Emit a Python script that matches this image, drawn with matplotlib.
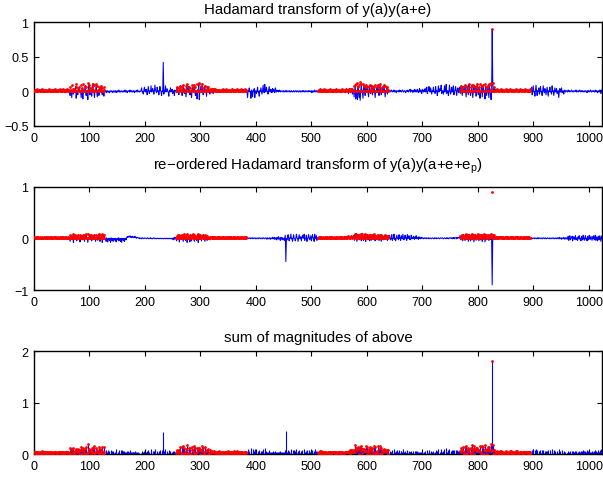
import numpy as np
import matplotlib
matplotlib.use("Agg")
import matplotlib.pyplot as plt

plt.rcParams['font.family'] = ['Liberation Sans', 'DejaVu Sans']
plt.rcParams['mathtext.default'] = 'regular'

# Hadamard coefficients of y(a)y(a+e), in hundredths, 128 indices per block
top_b0 = [1, 2, 1, 0, 2, 1, 3, 1, 0, 2, 1, 2, 0, 1, 3, 1,
          2, 0, 1, 2, 1, -1, 2, 1, 0, 1, 2, 3, 1, 0, 2, 1,
          1, 2, 0, 2, 1, 3, 1, 2, 0, 1, -1, 2, 1, 2, 3, 1,
          0, 2, 1, 1, 3, 2, 0, -2, 1, 2, 1, 3, 2, 1, 0, 2,
          1, -6, 0, 2, -9, 1, 0, -4, 3, -1, 0, 7, -10, 1, 0, -5,
          2, 0, 6, -1, 0, -9, 1, 5, -11, 0, 2, -1, 8, 0, -6, 1,
          0, -12, 2, 9, 0, -5, 1, 0, -7, 3, 11, 0, -1, -9, 2, 0,
          10, 1, -8, 0, 2, -6, 0, 4, -1, 8, 0, -5, 1, 0, -7, 2]
top_b1 = [0, -1, 1, -2, 0, 1, -1, 0, -2, 1, 0, -1, 1, 0, -2, 0,
          1, -1, 0, 1, -2, 0, 1, -1, 0, 2, -1, 0, -1, 1, 0, -1,
          0, 1, -1, 0, 2, -1, 0, 1, -2, 0, 1, 0, -1, 2, 0, -1,
          1, 0, -1, 1, 0, -2, 1, 0, -1, 1, 2, -1, 0, 1, -1, 0,
          0, 1, 5, -1, 0, -4, 1, 6, 0, -1, 3, 0, -5, 1, 7, 0,
          -3, 1, 0, 8, -1, 0, 4, 1, -4, 0, 9, 1, 0, -2, 6, 0,
          1, -5, 0, 7, 1, 0, -6, 1, 0, 42, -4, 1, 0, 8, -1, 0,
          4, 0, -1, -7, 1, 0, 5, -1, 0, 3, -3, 1, 0, -6, 2, 0]
top_b2 = [1, -2, 6, 0, 1, -5, 0, 3, 8, -1, 0, -6, 1, 9, 0, -3,
          1, 0, -8, 2, 10, 0, -1, 7, 0, -5, 1, 0, -9, 2, 6, 0,
          -1, 9, 0, -6, 1, 0, -11, 2, 0, 10, -12, 1, 0, 7, -1, 11,
          0, -5, 1, 0, 8, -1, 0, -7, 3, 0, 6, -1, 0, -4, 2, 0,
          -2, 4, 1, -3, 3, 2, -1, 3, 1, 2, -1, 2, 1, 0, 2, 1,
          1, 2, 0, 1, 3, 1, 2, 0, 1, 2, 1, 3, 0, 2, 1, 1,
          2, 0, 1, 2, 1, 3, 1, 0, 2, 1, 2, 1, 0, 2, 3, 1,
          1, 2, 0, 2, 1, 1, 3, 0, 2, 1, 2, 0, 1, 3, 1, 2]
top_b3 = [0, -9, 1, 0, 5, -1, 0, -10, 2, 0, -8, 1, 0, 4, -9, 0,
          1, -3, 0, 6, -1, 0, -7, 1, 0, 5, 0, -4, 1, 9, 0, -2,
          10, 0, -1, 6, 1, 0, -4, 2, 7, 0, -1, 3, 0, -2, 4, 0,
          3, 0, -2, 5, 1, -1, 2, 0, 1, -1, 2, 0, 1, -1, 0, 1,
          0, -1, 1, 0, -1, 1, 0, 1, -1, 0, 1, 0, -1, 1, 0, -1,
          1, 0, -1, 0, 1, -1, 0, 1, 0, -1, 1, 0, 0, -1, 1, 0,
          -1, 1, 0, -1, 1, 0, 1, -1, 0, 1, -1, 0, 1, 0, -1, 1,
          0, 1, -1, 0, 1, -2, 0, 1, -1, 0, 2, -1, 0, 1, -1, 0]
top_b4 = [1, 2, 0, 1, 3, 1, 2, 0, 2, 1, 3, 1, 0, 2, 1, 2,
          0, 1, 2, -1, 2, 1, 3, 0, 1, 2, 1, -2, 2, 1, 0, 2,
          1, 3, 1, 0, 2, 1, 2, -1, 1, 2, 0, 3, 1, 2, 1, 0,
          2, 1, -2, 3, 1, 2, 0, -3, 2, 4, 1, -2, 3, 2, -4, 1,
          1, -8, 0, 9, -11, 0, 1, -12, 7, 0, -9, 1, -13, 0, 11, -1,
          0, -10, 1, 8, 0, -6, 9, 0, -1, 7, 0, -8, 1, 9, 0, -3,
          1, 8, -5, 0, -1, 7, 0, -9, 1, 0, 6, -1, 9, 0, -6, 1,
          10, 0, -5, 1, 0, 7, -1, 9, 0, -8, 1, 0, 6, -4, 0, 2]
top_b5 = [1, 0, -1, 1, 2, 0, -1, 1, 0, 2, -1, 0, 1, -2, 1, 0,
          0, 1, -1, 2, 0, 1, -1, 0, 2, 1, -1, 0, 1, 0, -2, 1,
          1, 0, 2, -1, 0, 1, 3, -1, 0, 2, 1, -2, 1, 0, 3, -1,
          2, 0, -1, 3, 1, -2, 0, 4, -1, 2, 0, -3, 3, 1, -1, 2,
          0, 4, -1, 0, 6, -3, 0, 1, 7, 0, -1, 5, 0, -4, 1, 0,
          6, -1, 0, -3, 7, 0, 1, -6, 0, 8, -1, 0, 4, 1, 9, -3,
          0, 1, -4, 0, 8, -1, 0, 10, -3, 0, 1, -6, 0, 9, 1, -4,
          0, 6, -1, 0, 8, -5, 0, 1, 7, 0, -6, 1, 5, 0, -2, 6]
top_b6 = [1, -3, 8, 0, -6, 1, 7, 0, -1, 9, 0, -8, 1, 6, 0, -5,
          10, 0, -1, -6, 1, 9, 0, -9, 1, 8, 0, -2, 6, -7, 0, 11,
          0, -5, 1, 7, -10, 0, 1, 8, -8, 0, 9, -1, 0, -11, 7, 0,
          -6, 1, 8, 0, -9, 10, 0, -4, -12, 1, 90, 12, -1, 0, 6, 1,
          2, 1, 3, 2, 1, 2, 0, 1, 2, 3, 1, 2, 1, 0, 2, 1,
          1, 2, 1, 3, 2, 0, 1, 2, 1, 2, 3, 1, 2, 0, 1, 2,
          2, 1, 0, 2, 1, 3, 1, 2, 1, 0, 2, 1, 2, 3, 1, 2,
          1, 2, 2, 0, 1, 3, 1, 2, 1, 2, 0, 1, 2, 1, 3, 1]
top_b7 = [0, 6, -5, 0, 8, -1, 0, -7, 1, 9, 0, -6, 1, 0, 5, -4,
          0, 7, -1, 0, -6, 1, 8, 0, -2, 4, 0, -5, 1, 6, 0, -7,
          1, 0, 6, -1, 0, -4, 8, 0, 1, -6, 0, 5, -1, 0, 4, -3,
          0, 1, -9, 0, 4, -1, 0, 5, -2, 0, 1, -4, 0, 2, -1, 0,
          1, 0, -1, 2, 0, 1, -1, 0, 1, 2, -1, 0, 1, -1, 0, 1,
          0, 2, -1, 1, 0, -1, 1, 0, 2, 0, -1, 1, 0, 1, -1, 0,
          1, -1, 0, 1, 0, -2, 1, 0, 1, -1, 0, 2, 0, -1, 1, 0,
          0, 1, -1, 0, 2, -1, 1, 0, -2, 1, 0, -1, 2, 1, -3, 2]

# Re-ordered Hadamard coefficients of y(a)y(a+e+e_p), in hundredths
mid_b0 = [2, 1, 0, 2, 1, 3, 1, 0, 2, 1, 1, 2, 0, 1, 2, 1,
          1, 0, 2, 1, 2, 0, 1, 3, 1, 2, 0, 1, 2, 1, 0, 2,
          1, 2, 1, 0, 2, 1, 3, 1, 2, 0, 1, 2, 1, 1, 0, 2,
          2, 1, 0, 2, 1, 2, 1, 0, 3, 1, 2, 0, 1, 2, 1, 0,
          1, -6, 0, 5, -1, 0, 4, -8, 1, 0, 6, -1, 0, -5, 3, 0,
          7, -1, 0, -7, 1, 5, 0, -3, 1, 6, 0, -6, 2, 0, 8, -1,
          0, -8, 1, 0, 6, -1, 0, 7, -5, 1, 0, 4, -1, 7, 0, -6,
          1, 5, 0, -4, 1, 8, 0, -6, 1, 0, 5, -8, 0, 1, 7, -1]
mid_b1 = [-1, 0, -6, 1, -2, -7, 0, -1, -4, 0, -8, 1, -1, -5, 0, -6,
          0, -1, -4, 0, -7, -1, 0, -3, 1, -5, 0, -1, -6, 0, -8, 0,
          -1, -4, 0, -6, -1, 0, -3, 1, 3, 2, 4, 2, 3, 5, 2, 3,
          1, 4, 2, 3, 1, 2, 4, 1, 2, 0, 1, 2, 1, 0, 1, -1,
          0, 1, -1, 0, 1, 0, -1, 0, 1, 0, 0, -1, 0, 1, 0, -1,
          0, 0, 1, -1, 0, 0, -1, 0, 1, 0, -1, 0, 0, -1, 0, 0,
          -1, 0, 0, -1, 0, 0, -1, 0, 0, -1, -1, 0, 0, -1, 0, 0,
          -1, 0, -1, 0, 0, -1, 0, -1, -1, 0, -2, 1, -3, 0, 2, -1]
mid_b2 = [1, -5, 0, 6, -1, 0, -7, 1, 5, 0, -2, 7, 0, -6, 1, 8,
          0, -4, 1, 6, -8, 0, 1, 5, 0, -7, 1, 0, -5, 6, 0, 8,
          -1, -6, 0, 5, 1, -4, 0, 7, -8, 1, 0, 6, -1, 0, -5, 4,
          0, 7, -2, 1, -6, 0, 5, 1, -4, 0, 3, -1, 0, -3, 1, 2,
          1, 2, -2, 1, 3, 0, 2, 1, -1, 2, 1, 0, 2, 1, 3, 1,
          2, 0, 1, 2, 1, 3, 0, 2, 1, 1, 2, 0, 1, 3, 1, 2,
          1, 2, 0, 1, 2, 1, 0, 2, 3, 1, 1, 2, 0, 1, 2, 1,
          2, 1, 0, 2, 1, 2, 1, 3, 0, 1, 2, 1, 2, 0, 1, 2]
mid_b3 = [0, 1, -1, 0, 1, 0, -1, 1, 0, 0, 1, -1, 0, 1, 0, -1,
          1, 0, -1, 0, 1, -1, 0, 1, 0, -1, 0, 1, -1, 0, 1, 0,
          -1, 0, 1, 0, -2, 1, 0, -1, 1, 0, -2, 1, 0, -1, 2, -1,
          0, 2, -2, 1, 0, -3, 2, 1, -2, 3, -1, 0, -4, 2, 1, -3,
          1, -2, 0, -4, 1, 6, -45, 0, -3, 1, 7, 0, -5, 1, 0, 8,
          -1, 0, -6, 1, 7, 0, -1, -5, 0, 8, 1, 0, -6, 1, 7, 0,
          -1, 3, -5, 0, 6, 1, 0, 8, -4, 0, 1, 6, -6, 0, 1, 7,
          0, -3, 1, 5, -5, 0, 7, 1, 0, -6, 8, 0, -1, 5, -4, 1]
mid_b4 = [1, 2, 0, 1, 2, 1, 3, 0, 1, 2, 1, 0, 2, 1, 2, 0,
          2, 1, 1, 0, 2, 3, 1, 2, 0, 1, 2, 1, 1, 2, 0, 1,
          2, 1, 0, 2, 1, 2, 1, 3, 0, 2, 1, 1, 2, 0, 1, 2,
          1, 3, 2, 0, 2, 1, 4, 2, 1, 3, 0, 2, 4, 1, 3, 2,
          5, 0, -4, 8, 1, 9, -6, 0, 6, 1, -3, 7, 0, 8, -5, 1,
          9, 0, -4, 1, 8, 0, -6, 5, 0, 7, -3, 1, 6, -5, 0, 7,
          -4, 1, 6, 0, -2, 8, 0, -5, 1, 4, 0, -3, 7, 1, -4, 0,
          6, 0, -6, 1, 5, 0, -3, 1, 6, 0, -2, 5, 1, -4, 0, 5]
mid_b5 = [0, 6, 0, -3, 1, 7, -4, 0, 0, 8, -2, 0, -5, 1, 6, 0,
          0, -3, 7, 0, 1, -4, 5, 0, -1, 8, 0, -3, 1, 6, 0, 1,
          -4, 7, 0, 0, 5, -2, 0, -3, 6, 0, 1, -1, 4, 0, -2, 3,
          0, 5, -1, 2, 1, -2, 3, 0, 1, -1, 2, 0, 1, 0, -1, 1,
          0, 1, 0, -1, 1, 0, 0, 1, -1, 0, 1, 0, -1, 0, 1, 0,
          0, -1, 1, 0, 0, 1, -1, 0, 0, 1, 0, -1, 0, 1, 0, 0,
          1, 0, -1, 0, 1, 0, 0, -1, 1, 0, 1, -1, 0, 1, 0, 1,
          0, 1, -1, 1, 0, 2, -1, 0, 1, 2, -1, 1, 0, 2, 1, 0]
mid_b6 = [4, 0, -3, 6, 1, -5, 7, 0, 3, -4, 1, 8, 0, -2, 6, -6,
          0, 7, 1, -5, 0, 8, -3, 1, 6, -7, 0, 7, 1, -4, 5, 0,
          8, 1, -5, 0, 6, -3, 0, 7, -6, 1, 5, 0, 8, -7, 0, 6,
          -3, 0, 5, 7, -4, 0, 6, -2, 8, -6, -90, 5, 0, 7, -2, 1,
          2, 1, 3, 1, 2, 0, 2, 1, 3, 2, 1, 2, 0, 1, 2, 1,
          1, 2, 1, 3, 0, 2, 1, 2, 1, 0, 2, 1, 3, 1, 2, 1,
          2, 1, 0, 2, 1, 2, 1, 3, 1, 2, 0, 1, 2, 1, 2, 0,
          1, 2, 1, 0, 2, 1, 2, 1, 3, 0, 1, 2, 1, 2, 1, 0]
mid_b7 = [0, 1, -1, 0, 1, 0, -1, 1, 0, 0, -1, 1, 0, 1, -1, 0,
          1, 0, -1, 0, 1, -1, 0, 1, 0, -1, 1, 0, -1, 0, 1, 0,
          0, -1, 1, 0, -1, 0, 1, 0, -1, 1, 0, -1, 0, 1, -1, 0,
          1, -1, 0, 2, -1, 0, 1, -2, 1, 0, -1, 2, 0, -2, 1, 0,
          1, -2, 0, 4, -4, 0, 5, -3, 0, 1, 4, -5, 0, 3, -2, 0,
          5, -3, 0, 1, -4, 3, 0, 5, -2, 0, -5, 4, 0, -3, 6, 0,
          -4, 0, 5, -2, 0, -5, 4, 0, -3, 6, 0, -2, 4, 0, -4, 3,
          0, 5, -3, 0, 6, -4, 0, 3, -5, 0, 4, -3, 5, 0, -6, 4]

top_blocks = [top_b0, top_b1, top_b2, top_b3, top_b4, top_b5, top_b6, top_b7]
mid_blocks = [mid_b0, mid_b1, mid_b2, mid_b3, mid_b4, mid_b5, mid_b6, mid_b7]
assert all(len(b) == 128 for b in top_blocks + mid_blocks)

# blocks whose coefficients are highlighted with red markers
marked_blocks = [0, 2, 4, 6]

titles = ["Hadamard transform of y(a)y(a+e)",
          "re\u2212ordered Hadamard transform of y(a)y(a+e+e$_p$)",
          "sum of magnitudes of above"]
x_ticks = [0, 100, 200, 300, 400, 500, 600, 700, 800, 900, 1000]
y_ticks = [[-0.5, 0, 0.5, 1], [-1, 0, 1], [0, 1, 2]]
y_tick_labels = [["\u22120.5", "0", "0.5", "1"], ["\u22121", "0", "1"], ["0", "1", "2"]]
y_limits = [(-0.5, 1), (-1, 1), (0, 2)]

top = np.concatenate(top_blocks) / 100.0
mid = np.concatenate(mid_blocks) / 100.0
total = np.abs(top) + np.abs(mid)
idx = np.arange(len(top))
marked = np.isin(idx // 128, marked_blocks)

fig = plt.figure(figsize=(6.03, 4.81), dpi=100)
axes_rects = [(0.0564, 0.736, 0.942, 0.216),
              (0.0564, 0.395, 0.942, 0.215),
              (0.0564, 0.054, 0.942, 0.214)]
title_pads = [6.8, 13.2, 7.2]
axes = [fig.add_axes(r) for r in axes_rects]

blue = (0, 0, 1)
red = (1, 0, 0)
dot = dict(ls='none', marker='o', ms=2.0, mew=0, color=red, zorder=3)

axes[0].plot(idx, top, color=blue, lw=0.75, zorder=2)
axes[0].plot(idx[marked], np.abs(top[marked]), **dot)

axes[1].plot(idx, mid, color=blue, lw=0.75, zorder=2)
axes[1].plot(idx[marked], np.abs(mid[marked]), **dot)

axes[2].vlines(idx, 0, total, color=blue, lw=0.8, zorder=2)
axes[2].plot(idx[marked], total[marked], **dot)

for i, ax in enumerate(axes):
    ax.set_xlim(0, 1024)
    ax.set_ylim(*y_limits[i])
    ax.set_xticks(x_ticks)
    ax.set_xticklabels([str(t) for t in x_ticks])
    ax.set_yticks(y_ticks[i])
    ax.set_yticklabels(y_tick_labels[i])
    ax.tick_params(direction='in', top=True, right=True, length=3.6,
                   width=0.8, labelsize=9, pad=4, colors='black')
    for s in ax.spines.values():
        s.set_linewidth(1.0)
    ax.set_title(titles[i], fontsize=10.8, pad=title_pads[i])

fig.savefig("out.png", dpi=100)
